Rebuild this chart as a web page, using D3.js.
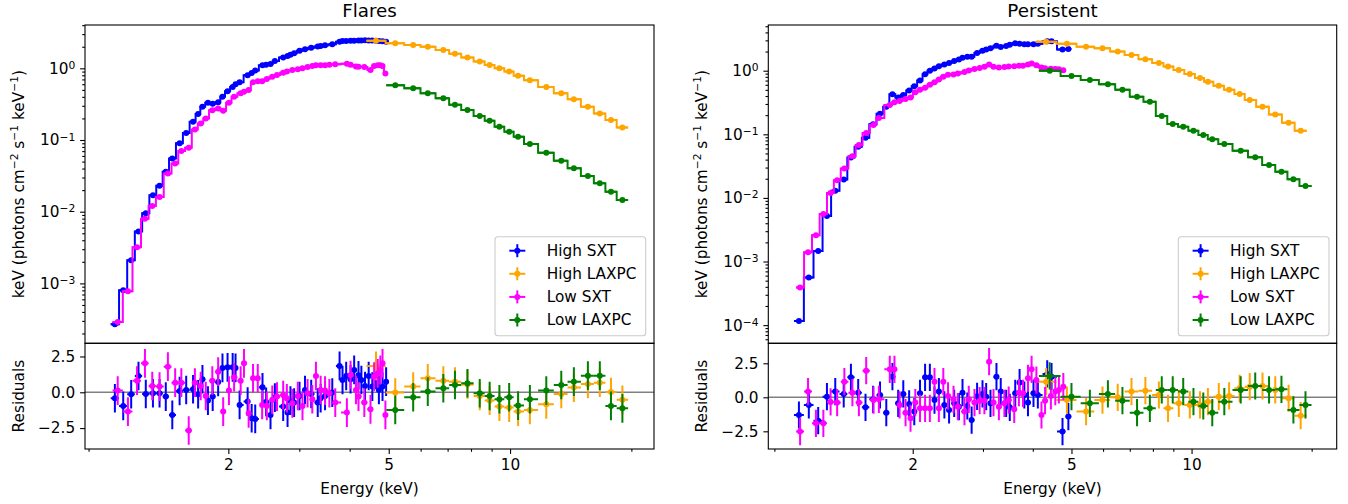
<!DOCTYPE html>
<html>
<head>
<meta charset="utf-8">
<script src="https://cdn.jsdelivr.net/npm/d3@7"></script>
<style>
  body { margin: 0; background: #fff; }
  svg { display: block; font-family: "DejaVu Sans", sans-serif; }
</style>
</head>
<body>
<svg id="chart" width="1348" height="504"></svg>
<script>
// ---------- data (energy keV, flux, residual) ----------
const flaresHighSxtE = [1.046,1.097,1.148,1.197,1.248,1.300,1.350,1.399,1.452,1.514,1.572,1.635,1.683,1.725,1.780,1.829,1.887,1.934,1.991,2.050,2.084,2.133,2.233,2.285,2.332,2.431,2.482,2.545,2.609,2.736,2.805,2.852,2.912,3.004,3.099,3.211,3.333,3.389,3.475,3.622,3.776,3.840,3.921,4.020,4.104,4.207,4.277,4.367,4.459,4.553,4.648,4.727,4.826,4.926];
const flaresHighSxtF = [2.7e-4,8.0e-4,2.1e-3,5.3e-3,9.5e-3,0.017,0.023,0.036,0.055,0.09,0.125,0.18,0.23,0.29,0.33,0.32,0.335,0.40,0.48,0.55,0.60,0.64,0.80,0.86,0.93,1.10,1.12,1.15,1.26,1.42,1.48,1.55,1.62,1.76,1.84,1.93,2.02,2.05,2.10,2.16,2.35,2.40,2.41,2.43,2.43,2.44,2.45,2.46,2.45,2.45,2.42,2.40,2.38,2.35];
const flaresHighSxtR = [-0.42,-0.95,-0.14,1.14,-0.12,-0.07,-0.07,-0.30,-1.58,0.09,0.16,0.21,-0.14,0.91,-0.58,-0.30,0.72,1.70,1.74,1.74,1.70,-0.88,-0.65,-1.81,-1.86,0.35,-0.67,-1.58,-0.37,-1.00,-1.42,-0.58,-0.72,-0.26,0.16,-0.12,-0.72,-0.42,-0.26,-0.02,1.84,0.86,1.14,0.91,1.56,1.19,0.86,0.44,1.14,0.40,1.21,0.16,0.40,0.74];

const flaresHighLaxpcE = [4.65,5.19,5.75,6.25,6.83,7.30,7.84,8.41,8.90,9.41,9.95,10.47,11.2,12.3,13.4,14.4,15.6,16.7,17.8,19.0];
const flaresHighLaxpcF = [2.43,2.23,2.11,2.0,1.80,1.60,1.42,1.24,1.11,1.0,0.90,0.79,0.68,0.55,0.45,0.37,0.29,0.235,0.19,0.15];
const flaresHighLaxpcR = [1.84,-0.02,0.40,0.98,0.81,0.74,0.55,-0.26,-0.58,-1.0,-1.07,-1.35,-1.23,-0.84,-0.12,0.33,0.58,0.67,0.02,-0.53];

const flaresLowSxtE = [1.063,1.127,1.187,1.242,1.295,1.350,1.416,1.476,1.529,1.595,1.652,1.708,1.758,1.825,1.887,1.942,2.007,2.067,2.146,2.187,2.246,2.303,2.366,2.426,2.492,2.571,2.641,2.736,2.794,2.883,2.974,3.055,3.145,3.231,3.299,3.389,3.475,3.562,3.684,3.937,4.020,4.147,4.207,4.349,4.505,4.600,4.697,4.766,4.826,4.906];
const flaresLowSxtF = [2.9e-4,7.8e-4,3.2e-3,8.0e-3,0.012,0.016,0.034,0.047,0.07,0.078,0.14,0.17,0.20,0.26,0.275,0.255,0.33,0.40,0.45,0.47,0.50,0.64,0.66,0.66,0.71,0.76,0.81,0.87,0.90,0.95,0.97,1.0,1.04,1.08,1.10,1.10,1.10,1.12,1.14,1.16,1.12,1.06,1.05,1.04,0.95,1.08,1.10,1.10,1.08,0.85];
const flaresLowSxtR = [0.12,-1.35,0.81,2.02,0.44,0.40,1.79,0.67,0.67,-2.67,0.67,0.44,-0.26,0.81,1.44,-1.35,0.12,1.05,0.81,2.02,-1.47,0.98,0.98,-0.88,-0.95,-0.53,-0.30,-0.19,-0.42,-0.77,-0.26,-0.95,-0.07,-0.49,1.14,0.16,0.12,-0.07,-0.72,-1.42,1.21,0.16,-0.30,-0.72,-1.19,1.09,1.33,1.56,2.02,-1.58];

const flaresLowLaxpcE = [5.19,5.75,6.25,6.83,7.30,7.84,8.41,8.90,9.41,9.95,10.47,11.2,12.3,13.4,14.4,15.6,16.7,17.8,19.0];
const flaresLowLaxpcF = [0.58,0.526,0.448,0.382,0.31,0.262,0.216,0.186,0.153,0.13,0.111,0.088,0.0665,0.0514,0.0403,0.0315,0.0249,0.019,0.0146];
const flaresLowLaxpcR = [-1.23,-0.35,0.05,0.28,0.51,0.63,-0.07,-0.26,-0.49,-0.35,-0.93,-0.49,0.12,0.51,0.74,1.16,1.16,-0.95,-1.12];

const persHighSxtE = [1.037,1.098,1.159,1.219,1.279,1.343,1.40,1.46,1.523,1.591,1.656,1.717,1.779,1.839,1.894,1.959,2.018,2.086,2.148,2.208,2.268,2.326,2.401,2.467,2.541,2.611,2.666,2.741,2.81,2.90,2.992,3.056,3.133,3.243,3.324,3.429,3.502,3.614,3.706,3.809,3.89,4.016,4.118,4.347,4.457,4.748,4.911];
const persHighSxtF = [1.16e-4,5.6e-4,1.46e-3,5.2e-3,0.013,0.0195,0.043,0.064,0.088,0.144,0.21,0.27,0.425,0.38,0.415,0.49,0.57,0.70,0.88,1.0,1.08,1.18,1.25,1.32,1.42,1.50,1.6,1.66,1.66,1.90,2.05,2.15,2.25,2.47,2.35,2.45,2.55,2.7,2.65,2.6,2.6,2.6,2.65,2.9,2.9,2.15,2.2];
const persHighSxtR = [-1.30,-0.56,-1.72,0.05,0.42,0.25,1.47,0.34,-0.74,-0.15,0.17,-1.13,1.52,-0.44,0.25,-0.49,-1.05,0.29,1.47,1.47,-0.20,0.42,-0.56,-0.93,-0.44,-0.69,0.34,-0.64,-1.67,0.07,0.25,0.05,-0.44,1.52,0.42,-0.44,-0.74,0.29,1.08,0.17,-0.39,0.29,0.17,1.72,1.52,-2.52,-1.42];

const persHighLaxpcE = [4.32,4.87,5.44,5.98,6.53,7.07,7.66,8.28,8.73,9.29,9.90,10.5,10.99,11.7,12.42,13.2,13.99,15.06,16.21,17.51,18.77];
const persHighLaxpcF = [2.86,2.65,2.38,2.25,2.0,1.77,1.51,1.32,1.16,1.03,0.885,0.77,0.67,0.58,0.50,0.43,0.346,0.27,0.205,0.152,0.114];
const persHighLaxpcR = [1.15,-0.20,-1.05,-0.20,0.0,0.42,0.49,0.17,-0.81,-0.44,-0.56,-0.56,-0.32,0.05,0.10,0.66,0.78,0.83,0.54,-0.07,-1.35];

const persLowSxtE = [1.044,1.093,1.144,1.194,1.245,1.293,1.348,1.412,1.466,1.529,1.595,1.645,1.752,1.80,1.854,1.919,1.975,2.03,2.086,2.148,2.208,2.268,2.326,2.386,2.452,2.531,2.595,2.696,2.764,2.857,2.943,3.025,3.108,3.188,3.289,3.395,3.48,3.593,3.692,3.78,3.89,3.972,4.083,4.205,4.293,4.44,4.554,4.65,4.77];
const persLowSxtF = [3.9e-4,1.4e-3,2.6e-3,5.6e-3,0.012,0.019,0.029,0.045,0.068,0.105,0.14,0.18,0.29,0.32,0.335,0.36,0.38,0.46,0.50,0.54,0.60,0.66,0.73,0.80,0.86,0.87,0.90,0.95,1.01,1.06,1.1,1.15,1.25,1.15,1.12,1.14,1.16,1.18,1.2,1.2,1.25,1.3,1.22,1.12,1.09,1.07,1.06,1.05,1.02];
const persLowSxtR = [-2.52,0.42,-1.91,-1.91,-0.34,-0.39,1.15,0.34,-0.39,1.96,-0.20,-0.15,2.06,2.06,-0.56,-1.13,-1.54,-0.39,-0.81,-0.81,-0.81,1.15,-0.81,1.15,0.10,-0.15,-0.69,-1.05,-0.15,-0.39,-0.25,-0.25,2.62,-0.39,-0.69,-0.44,-0.20,-0.88,0.34,0.29,1.40,2.06,1.27,-1.30,-0.25,0.10,0.42,0.54,0.78];

const persLowLaxpcE = [4.41,5.0,5.56,6.17,6.71,7.30,7.86,8.42,8.97,9.53,10.11,10.70,11.27,12.08,13.28,14.44,15.64,16.80,18.0,19.3];
const persLowLaxpcF = [1.0,0.826,0.714,0.611,0.50,0.39,0.326,0.194,0.145,0.132,0.114,0.0975,0.0834,0.0703,0.055,0.0435,0.0329,0.0258,0.0196,0.0154];
const persLowLaxpcR = [1.57,0.05,-0.44,0.25,-0.25,-1.13,-0.81,0.54,0.54,0.42,-0.32,-0.64,-1.13,-0.32,0.54,0.83,0.54,0.59,-0.93,-0.56];

const seriesLabels = ['High SXT', 'High LAXPC', 'Low SXT', 'Low LAXPC'];
const seriesColors = ['#0000ff', '#ffa500', '#ff00ff', '#008000'];
const xTickValues = [2, 5, 10];
const xMinorTicks = [0.9, 3, 4, 6, 7, 8, 9, 20];
const residTicks = [-2.5, 0, 2.5];

// ---------- layout ----------
const FS = 15.3;          // base font size (11pt)
const topY = 25, midY = 343.3, botY = 449;
const panels = [
  {
    title: 'Flares', left: 85, right: 654,
    xDomain: [0.8818, 22.76], yDomain: [1.46e-4, 4.02], yDecades: [-3, -2, -1, 0],
    rDomain: [-3.96, 3.42], labelX: 19, legendX: 495,
    series: [
      [flaresHighSxtE, flaresHighSxtF, flaresHighSxtR],
      [flaresHighLaxpcE, flaresHighLaxpcF, flaresHighLaxpcR],
      [flaresLowSxtE, flaresLowSxtF, flaresLowSxtR],
      [flaresLowLaxpcE, flaresLowLaxpcF, flaresLowLaxpcR],
    ],
  },
  {
    title: 'Persistent', left: 768.3, right: 1336.7,
    xDomain: [0.869, 23.11], yDomain: [5.18e-5, 5.23], yDecades: [-4, -3, -2, -1, 0],
    rDomain: [-3.80, 3.97], labelX: 702, legendX: 1178.3,
    series: [
      [persHighSxtE, persHighSxtF, persHighSxtR],
      [persHighLaxpcE, persHighLaxpcF, persHighLaxpcR],
      [persLowSxtE, persLowSxtF, persLowSxtR],
      [persLowLaxpcE, persLowLaxpcF, persLowLaxpcR],
    ],
  },
];

const svg = d3.select('#chart');

/** bin edges from bin centres (geometric midpoints) */
function binEdges(E) {
  const mids = d3.pairs(E, (a, b) => Math.sqrt(a * b));
  const lo = [E[0] * E[0] / mids[0], ...mids];
  const hi = [...mids, E[E.length - 1] ** 2 / mids[mids.length - 1]];
  return E.map((e, i) => [lo[i], hi[i]]);
}

function styleAxis(g) {
  g.attr('font-family', 'DejaVu Sans, sans-serif').attr('font-size', FS);
  g.select('.domain').remove();
  g.selectAll('.tick line').attr('stroke', '#000').attr('stroke-width', 1.1);
  g.selectAll('.tick text').attr('fill', '#000');
}

function drawPanel(p, idx) {
  const x = d3.scaleLog().domain(p.xDomain).range([p.left, p.right]);
  const y = d3.scaleLog().domain(p.yDomain).range([midY, topY]);
  const r = d3.scaleLinear().domain(p.rDomain).range([botY, midY]);
  const g = svg.append('g');

  // clip paths
  const clipTop = `clipTop${idx}`, clipRes = `clipRes${idx}`;
  const defs = svg.append('defs');
  defs.append('clipPath').attr('id', clipTop).append('rect')
    .attr('x', p.left).attr('y', topY).attr('width', p.right - p.left).attr('height', midY - topY);
  defs.append('clipPath').attr('id', clipRes).append('rect')
    .attr('x', p.left).attr('y', midY).attr('width', p.right - p.left).attr('height', botY - midY);

  const gTop = g.append('g').attr('clip-path', `url(#${clipTop})`);
  const gRes = g.append('g').attr('clip-path', `url(#${clipRes})`);

  // zero line in residual panel
  gRes.append('line')
    .attr('x1', p.left).attr('x2', p.right)
    .attr('y1', r(0)).attr('y2', r(0))
    .attr('stroke', '#808080').attr('stroke-width', 1.5);

  p.series.forEach(([E, F, R], si) => {
    const color = seriesColors[si];
    const edges = binEdges(E);
    // model step line
    const stepPts = E.map((e, i) => [edges[i][0], F[i]]);
    stepPts.push([edges[E.length - 1][1], F[F.length - 1]]);
    gTop.append('path')
      .attr('d', d3.line().x(d => x(d[0])).y(d => y(d[1])).curve(d3.curveStepAfter)(stepPts))
      .attr('fill', 'none').attr('stroke', color).attr('stroke-width', 2);
    // data: x error bars + markers
    gTop.append('g').selectAll('line').data(E).join('line')
      .attr('x1', (d, i) => x(edges[i][0])).attr('x2', (d, i) => x(edges[i][1]))
      .attr('y1', (d, i) => y(F[i])).attr('y2', (d, i) => y(F[i]))
      .attr('stroke', color).attr('stroke-width', 2);
    gTop.append('g').selectAll('circle').data(E).join('circle')
      .attr('cx', d => x(d)).attr('cy', (d, i) => y(F[i])).attr('r', 3)
      .attr('fill', color);

    // residuals
    const gr = gRes.append('g');
    gr.selectAll('line.xe').data(E).join('line').attr('class', 'xe')
      .attr('x1', (d, i) => x(edges[i][0])).attr('x2', (d, i) => x(edges[i][1]))
      .attr('y1', (d, i) => r(R[i])).attr('y2', (d, i) => r(R[i]))
      .attr('stroke', color).attr('stroke-width', 2);
    gr.selectAll('line.ye').data(E).join('line').attr('class', 'ye')
      .attr('x1', d => x(d)).attr('x2', d => x(d))
      .attr('y1', (d, i) => r(R[i] - 1)).attr('y2', (d, i) => r(R[i] + 1))
      .attr('stroke', color).attr('stroke-width', 2);
    gr.selectAll('circle').data(E).join('circle')
      .attr('cx', d => x(d)).attr('cy', (d, i) => r(R[i])).attr('r', 3)
      .attr('fill', color);
  });

  // y axis (log) of top panel
  const majors = p.yDecades.map(d => Math.pow(10, d));
  const minors = [];
  for (let d = p.yDecades[0] - 1; d <= p.yDecades[p.yDecades.length - 1]; d++) {
    for (let k = 2; k <= 9; k++) {
      const v = k * Math.pow(10, d);
      if (v >= p.yDomain[0] && v <= p.yDomain[1]) minors.push(v);
    }
  }
  g.append('g').attr('transform', `translate(${p.left},0)`)
    .call(d3.axisLeft(y).tickValues(minors).tickSize(2.8).tickFormat(''))
    .call(styleAxis);
  const gy = g.append('g').attr('transform', `translate(${p.left},0)`)
    .call(d3.axisLeft(y).tickValues(majors).tickSize(4.9).tickPadding(4.9).tickFormat(() => '10'))
    .call(styleAxis);
  gy.selectAll('.tick text').each(function (d) {
    const e = Math.round(Math.log10(d));
    d3.select(this).append('tspan')
      .attr('dy', '-0.45em').attr('font-size', FS * 0.7)
      .text(e < 0 ? '\u2212' + Math.abs(e) : String(e));
  });

  // residual y axis
  g.append('g').attr('transform', `translate(${p.left},0)`)
    .call(d3.axisLeft(r).tickValues(residTicks).tickSize(4.9).tickPadding(4.9).tickFormat(d3.format('.1f')))
    .call(styleAxis);

  // x axis below residuals
  g.append('g').attr('transform', `translate(0,${botY})`)
    .call(d3.axisBottom(x).tickValues(xMinorTicks).tickSize(2.8).tickFormat(''))
    .call(styleAxis);
  g.append('g').attr('transform', `translate(0,${botY})`)
    .call(d3.axisBottom(x).tickValues(xTickValues).tickSize(4.9).tickPadding(4.9).tickFormat(d3.format('d')))
    .call(styleAxis);

  // frames
  g.append('rect').attr('x', p.left).attr('y', topY).attr('width', p.right - p.left).attr('height', midY - topY)
    .attr('fill', 'none').attr('stroke', '#000').attr('stroke-width', 1.1);
  g.append('rect').attr('x', p.left).attr('y', midY).attr('width', p.right - p.left).attr('height', botY - midY)
    .attr('fill', 'none').attr('stroke', '#000').attr('stroke-width', 1.1);

  // title and labels
  const cx = (p.left + p.right) / 2;
  g.append('text').attr('x', cx).attr('y', 16.5).attr('text-anchor', 'middle')
    .attr('font-size', 18.3).text(p.title);
  g.append('text').attr('x', cx).attr('y', 494).attr('text-anchor', 'middle')
    .attr('font-size', FS).text('Energy (keV)');

  const yl = g.append('text')
    .attr('transform', `translate(${p.labelX},${(topY + midY) / 2}) rotate(-90)`)
    .attr('text-anchor', 'middle').attr('dy', '0.35em').attr('font-size', FS);
  const parts = [['keV (photons cm', 0], ['\u22122', 1], [' s', 0], ['\u22121', 1], [' keV', 0], ['\u22121', 1], [')', 0]];
  let raised = false;
  parts.forEach(([t, sup]) => {
    const ts = yl.append('tspan').text(t);
    if (sup && !raised) { ts.attr('dy', -6).attr('font-size', FS * 0.7); raised = true; }
    else if (sup) { ts.attr('font-size', FS * 0.7); }
    else if (raised) { ts.attr('dy', 6); raised = false; }
  });
  g.append('text')
    .attr('transform', `translate(${p.labelX},${(midY + botY) / 2}) rotate(-90)`)
    .attr('text-anchor', 'middle').attr('dy', '0.35em').attr('font-size', FS).text('Residuals');

  // legend
  const lg = g.append('g');
  lg.append('rect').attr('x', p.legendX).attr('y', 236.7).attr('width', 150.7).attr('height', 99)
    .attr('rx', 3).attr('fill', '#fff').attr('fill-opacity', 0.8)
    .attr('stroke', '#cccccc').attr('stroke-width', 1.1);
  seriesLabels.forEach((lab, i) => {
    const cy = 250.7 + i * 23.1;
    const mx = p.legendX + 22.3;
    const color = seriesColors[i];
    lg.append('line').attr('x1', mx - 8).attr('x2', mx + 8).attr('y1', cy).attr('y2', cy)
      .attr('stroke', color).attr('stroke-width', 2);
    lg.append('line').attr('x1', mx).attr('x2', mx).attr('y1', cy - 6.5).attr('y2', cy + 6.5)
      .attr('stroke', color).attr('stroke-width', 2);
    lg.append('circle').attr('cx', mx).attr('cy', cy).attr('r', 3).attr('fill', color);
    lg.append('text').attr('x', p.legendX + 51.7).attr('y', cy).attr('dy', '0.35em')
      .attr('font-size', FS).text(lab);
  });
}

panels.forEach(drawPanel);
</script>
</body>
</html>
